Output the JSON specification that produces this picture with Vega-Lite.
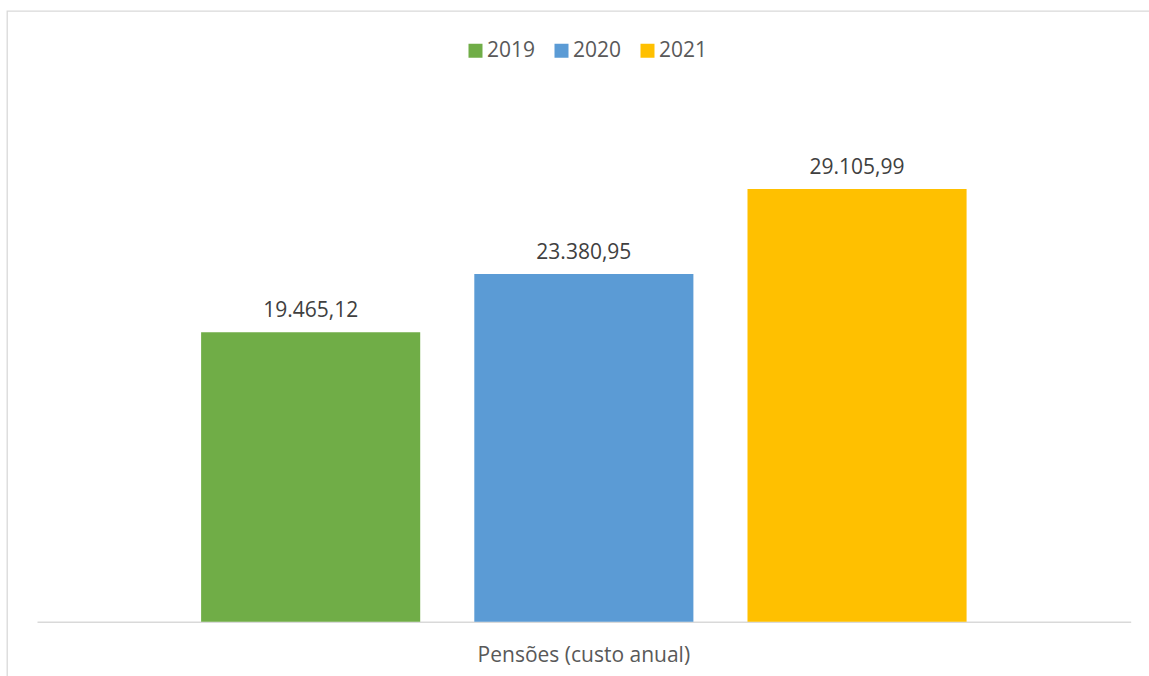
{
  "$schema": "https://vega.github.io/schema/vega-lite/v6.json",
  "autosize": "none",
  "width": 1147,
  "height": 680,
  "padding": {"left": 7, "top": 11, "right": 0, "bottom": 0},
  "background": "white",
  "config": {
    "font": "Open Sans",
    "view": {"stroke": "#d9d9d9", "strokeWidth": 1.3},
    "locale": {"number": {"decimal": ",", "thousands": ".", "grouping": [3], "currency": ["", " €"]}}
  },
  "data": {
    "values": [
      {"cat": "Pensões (custo anual)", "year": "2019", "value": 19465.12},
      {"cat": "Pensões (custo anual)", "year": "2020", "value": 23380.95},
      {"cat": "Pensões (custo anual)", "year": "2021", "value": 29105.99}
    ]
  },
  "encoding": {
    "x": {
      "field": "cat",
      "type": "nominal",
      "scale": {"range": [30, 1123.7], "paddingOuter": 0.2144, "paddingInner": 0},
      "axis": {
        "title": null,
        "labelAngle": 0,
        "labelLimit": 0,
        "ticks": false,
        "domainColor": "#d9d9d9",
        "domainWidth": 1.5,
        "labelFontSize": 21,
        "labelColor": "#595959",
        "labelPadding": 23,
        "offset": -69.3
      }
    },
    "xOffset": {
      "field": "year",
      "type": "nominal",
      "scale": {"paddingInner": 0.198, "paddingOuter": 0}
    },
    "y": {
      "field": "value",
      "type": "quantitative",
      "scale": {"domain": [0, 41080], "range": [610.7, 0], "nice": false, "zero": true},
      "axis": null
    }
  },
  "layer": [
    {
      "mark": {"type": "bar"},
      "encoding": {
        "color": {
          "field": "year",
          "type": "nominal",
          "scale": {"domain": ["2019", "2020", "2021"], "range": ["#70AD47", "#5B9BD5", "#FFC000"]},
          "legend": {
            "title": null,
            "orient": "none",
            "direction": "horizontal",
            "legendX": 458,
            "legendY": 29,
            "symbolType": "square",
            "symbolSize": 196,
            "symbolStrokeWidth": 0,
            "labelFontSize": 21,
            "labelColor": "#595959",
            "labelOffset": 1,
            "columnPadding": 15,
            "padding": 0
          }
        }
      }
    },
    {
      "mark": {"type": "text", "baseline": "alphabetic", "dy": -15, "fontSize": 21, "color": "#404040"},
      "encoding": {
        "text": {"field": "value", "type": "quantitative", "format": ",.2f"}
      }
    }
  ]
}
